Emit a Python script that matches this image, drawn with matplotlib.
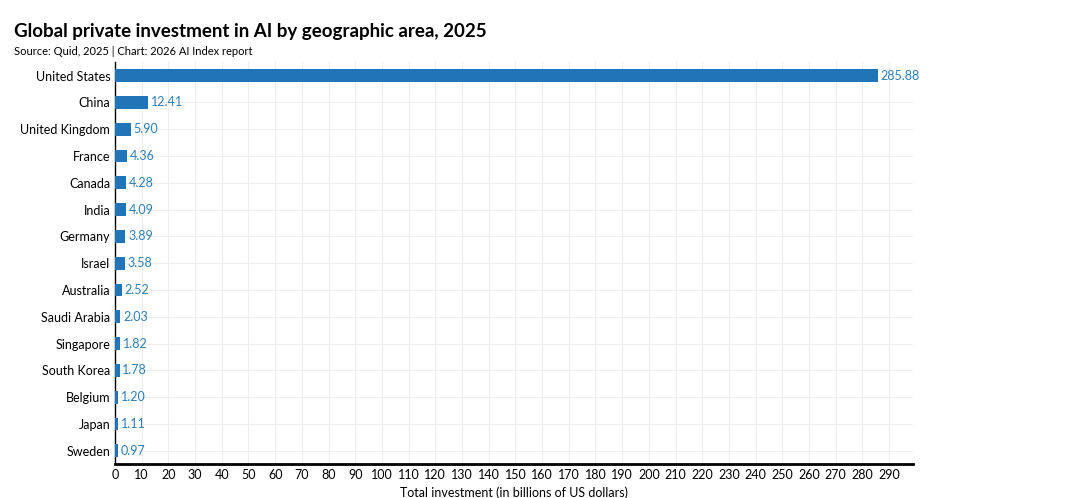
import matplotlib.pyplot as plt

countries = ["United States", "China", "United Kingdom", "France", "Canada", "India",
             "Germany", "Israel", "Australia", "Saudi Arabia", "Singapore", "South Korea",
             "Belgium", "Japan", "Sweden"]
values = [285.88, 12.41, 5.90, 4.36, 4.28, 4.09, 3.89, 3.58, 2.52, 2.03, 1.82, 1.78, 1.20, 1.11, 0.97]
ticks = list(range(0, 300, 10))

plt.rcParams['font.family'] = ['Lato', 'DejaVu Sans']
fig = plt.figure(figsize=(10.8, 4.98), dpi=100)
ax = fig.add_axes([0.1065, 0.068, 0.739, 0.807])

y = list(range(len(countries)))
ax.barh(y, values, height=0.48, color='#2274b8', zorder=3)
for yi, v in zip(y, values):
    ax.text(v + 1, yi, f"{v:.2f}", va='center', ha='left', fontsize=9, color='#2c7fb8')

ax.set_yticks(y)
ax.set_yticklabels(countries, fontsize=9)
ax.set_ylim(len(countries) - 0.5, -0.5)
ax.set_xlim(0, 299)
ax.set_xticks(ticks)
ax.set_xticklabels([str(t) for t in ticks], fontsize=9)
ax.set_xlabel("Total investment (in billions of US dollars)", fontsize=9, labelpad=4)
ax.grid(True, color='#eeeeee', lw=0.8, zorder=0)
ax.tick_params(length=0)
for s in ['top', 'right']:
    ax.spines[s].set_visible(False)
ax.spines['bottom'].set_linewidth(2)
ax.spines['left'].set_linewidth(1)

fig.text(0.013, 0.925, "Global private investment in AI by geographic area, 2025",
         fontsize=13.5, fontweight='bold')
fig.text(0.013, 0.89, "Source: Quid, 2025 | Chart: 2026 AI Index report", fontsize=8)
fig.savefig("out.png", dpi=100)
